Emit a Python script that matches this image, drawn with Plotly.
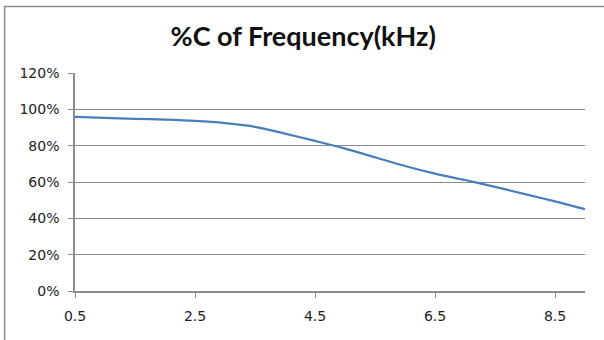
import plotly.graph_objects as go

# Frequency steps (kHz) and the relative %C at each step
frequency_khz = [0.5, 1.0, 1.5, 2.0, 2.5, 3.0, 3.5, 4.0, 4.5,
                 5.0, 5.5, 6.0, 6.5, 7.0, 7.5, 8.0, 8.5, 9.0]
percent_c = [0.958, 0.953, 0.948, 0.943, 0.936, 0.924, 0.904, 0.866, 0.826,
             0.784, 0.736, 0.688, 0.646, 0.611, 0.573, 0.533, 0.493, 0.450]

x_ticks = [0.5, 2.5, 4.5, 6.5, 8.5]
x_tick_labels = ["0.5", "2.5", "4.5", "6.5", "8.5"]
y_ticks = [0, 0.2, 0.4, 0.6, 0.8, 1.0, 1.2]
y_tick_labels = ["0%", "20%", "40%", "60%", "80%", "100%", "120%"]

title_font = "Lato, 'Open Sans', sans-serif"
tick_font = "DejaVu Sans"
axis_grey = "#8c8c8c"

fig = go.Figure()
fig.add_trace(go.Scatter(
    x=frequency_khz,
    y=percent_c,
    mode="lines",
    line=dict(color="#4a7ebb", width=2.25, shape="spline", smoothing=0.8),
    hoverinfo="x+y",
    showlegend=False,
))

fig.update_layout(
    width=604,
    height=340,
    margin=dict(l=75, r=19, t=73, b=49),
    paper_bgcolor="white",
    plot_bgcolor="white",
    title=dict(
        text="<b>%C of Frequency(kHz)</b>",
        x=0.502, xanchor="center",
        y=0.893, yanchor="middle",
        font=dict(family=title_font, size=27, color="#111111"),
    ),
    font=dict(family=tick_font, size=14, color="#222222"),
    xaxis=dict(
        range=[0.5, 9.0],
        tickvals=x_ticks,
        ticktext=x_tick_labels,
        showgrid=False,
        zeroline=False,
        showline=True,
        linecolor=axis_grey,
        linewidth=1.5,
        ticks="outside",
        ticklen=5,
        tickcolor=axis_grey,
        tickfont=dict(family=tick_font, size=14, color="#222222"),
        ticklabelstandoff=6,
    ),
    yaxis=dict(
        range=[0, 1.2],
        tickvals=y_ticks,
        ticktext=y_tick_labels,
        showgrid=True,
        gridcolor=axis_grey,
        gridwidth=1,
        zeroline=False,
        showline=True,
        linecolor=axis_grey,
        linewidth=1.5,
        ticks="outside",
        ticklen=5,
        tickcolor=axis_grey,
        tickfont=dict(family=tick_font, size=14, color="#222222"),
        ticklabelstandoff=6,
    ),
    shapes=[
        # chart-area frame (open toward the right and bottom edges)
        dict(
            type="rect", xref="paper", yref="paper",
            x0=-0.138, x1=1.2, y0=-0.5, y1=1.305,
            line=dict(color="#8a8a8a", width=1.5),
            fillcolor="rgba(0,0,0,0)",
            layer="below",
        ),
    ],
)

fig.write_html("out.html")
